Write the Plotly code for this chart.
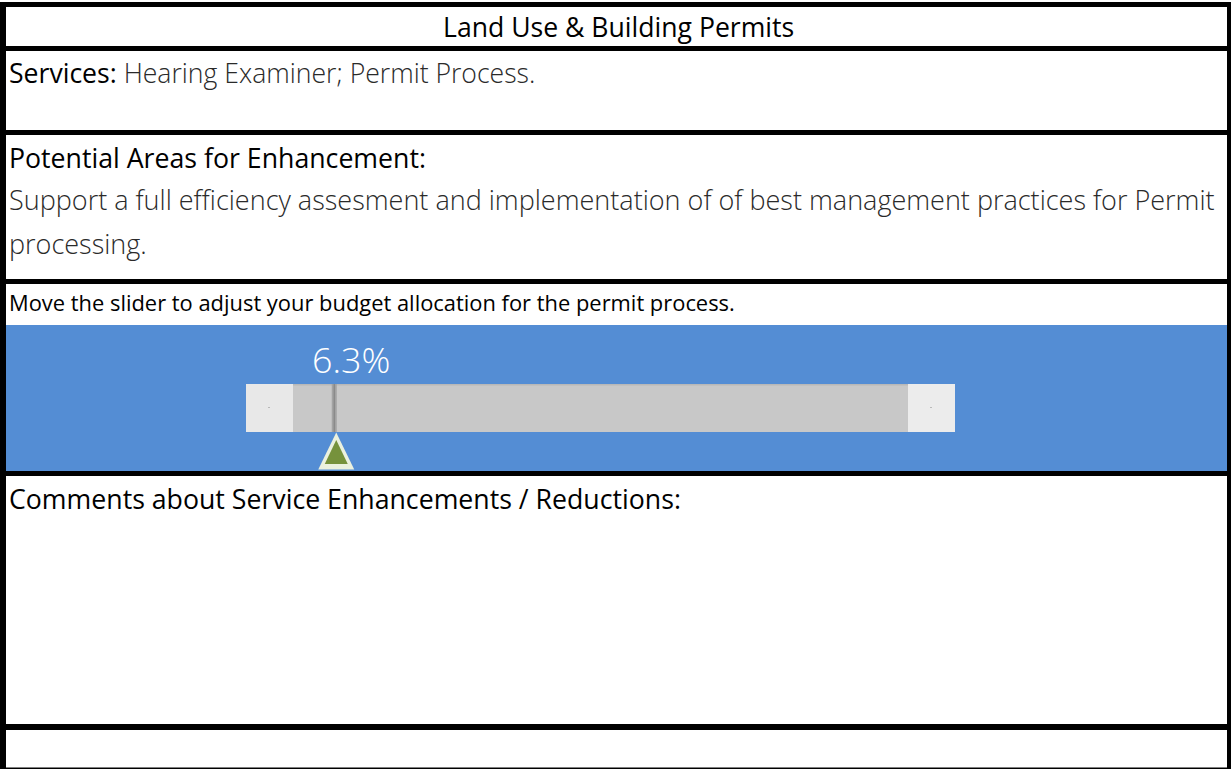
import plotly.graph_objects as go

W, H = 1231, 769

# ---- content / data ----
title = "Land Use & Building Permits"
services_label = "Services:"
services_text = "Hearing Examiner; Permit Process."
enh_label = "Potential Areas for Enhancement:"
enh_lines = ["Support a full efficiency assesment and implementation of of best management practices for Permit",
             "processing."]
slider_prompt = "Move the slider to adjust your budget allocation for the permit process."
slider_min, slider_max = 0, 100
slider_value = [6.3]
comments_label = "Comments about Service Enhancements / Reductions:"

FONT = "Open Sans"
LIGHT = "#2a2a2a"
BLUE = "#548dd4"

fig = go.Figure()

# track axis (x2) mapped onto the slider track
track_x0, track_x1 = 293, 908
fig.add_trace(go.Scatter(
    x=slider_value, y=[408], xaxis="x2", yaxis="y", mode="markers",
    marker=dict(size=1, color="rgba(0,0,0,0)"), hoverinfo="skip", showlegend=False))

shapes = []
def rect(x0, y0, x1, y1, color):
    shapes.append(dict(type="rect", xref="x", yref="y", x0=x0, x1=x1, y0=y0, y1=y1,
                       fillcolor=color, line=dict(width=0), layer="below"))

# blue slider band
rect(6, 325, 1227, 471, BLUE)
# slider track
rect(246, 384, 955, 432, "#c8c8c8")
rect(246, 384, 293, 432, "#e8e8e8")
rect(908, 384, 955, 432, "#ececec")
rect(293, 384, 908, 385.5, "#b8b8b8")
rect(268.5, 407, 269.5, 408, "#888888")
rect(930.5, 407, 931.5, 408, "#888888")

# borders
rect(0, 2, 1231, 7, "black")
rect(0, 2, 6, 769, "black")
rect(1227, 2, 1231, 769, "black")
for y0, y1 in [(46, 51), (130, 135), (279, 284), (471, 476), (724, 730)]:
    rect(0, y0, 1231, y1, "black")
rect(0, 767.5, 1231, 769, "black")

# slider thumb (anchored at value on track axis)
v = slider_value[0]
shapes.append(dict(type="path", xref="x2", yref="y", xsizemode="pixel", xanchor=v,
                   path="M0,384 L5,384 L5,432 L0,432 Z", fillcolor="#a3a3a3",
                   line=dict(width=0), layer="above"))
shapes.append(dict(type="path", xref="x2", yref="y", xsizemode="pixel", xanchor=v,
                   path="M1.8,384 L3.2,384 L3.2,432 L1.8,432 Z", fillcolor="#8a8a8a",
                   line=dict(width=0), layer="above"))
# pointer triangle
shapes.append(dict(type="path", xref="x2", yref="y", xsizemode="pixel", xanchor=v,
                   path="M-13.5,469.5 L22.5,469.5 L4.5,432.5 Z", fillcolor="#ebf1de",
                   line=dict(width=0), layer="above"))
shapes.append(dict(type="path", xref="x2", yref="y", xsizemode="pixel", xanchor=v,
                   path="M-7,464 L16,464 L4.5,440 Z", fillcolor="#76923c",
                   line=dict(width=0), layer="above"))

ann = []
def text(x, y, s, size, color="black", anchor="left", weight=400, xref="x", xshift=0):
    ann.append(dict(x=x, y=y, xref=xref, yref="y", text=s, showarrow=False,
                    xanchor=anchor, yanchor="middle", xshift=xshift,
                    font=dict(family=FONT, size=size, color=color, weight=weight)))

text(618, 27, title, 26.6, anchor="center")
text(7, 73, services_label + " <span style='color:%s;font-weight:300'>%s</span>" % (LIGHT, services_text), 26.6)
text(7, 157, enh_label, 26.7)
text(7, 199, enh_lines[0], 27, color=LIGHT, weight=300)
text(7, 243, enh_lines[1], 27, color=LIGHT, weight=300)
text(7, 302, slider_prompt, 21.9)
text(v, 359, "%.1f%%" % v, 35.8, color="white", anchor="center", weight=300, xref="x2", xshift=19)
text(7, 498, comments_label, 26.7)

fig.update_layout(
    width=W, height=H, margin=dict(l=0, r=0, t=0, b=0),
    paper_bgcolor="white", plot_bgcolor="rgba(0,0,0,0)",
    xaxis=dict(range=[0, W], domain=[0, 1], visible=False, fixedrange=True),
    xaxis2=dict(range=[slider_min, slider_max], domain=[track_x0 / W, track_x1 / W],
                anchor="y", visible=False, fixedrange=True),
    yaxis=dict(range=[H, 0], domain=[0, 1], visible=False, fixedrange=True),
    shapes=shapes, annotations=ann, showlegend=False,
)
fig.write_html("out.html", config={"displayModeBar": False},
               post_script="document.body.style.margin='0';document.body.style.overflow='hidden';")
